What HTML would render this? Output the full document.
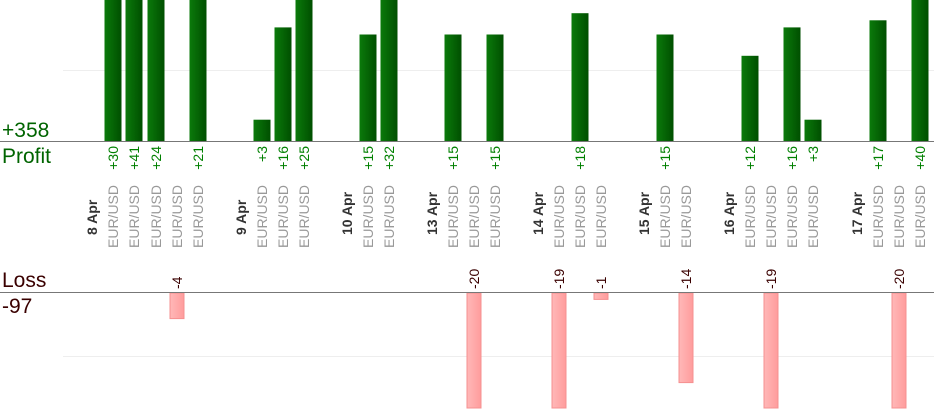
<!DOCTYPE html>
<html><head><meta charset="utf-8"><style>
html,body{margin:0;padding:0;background:#fff;}
svg{display:block;font-family:"Liberation Sans",sans-serif;}
</style></head><body>
<svg width="934" height="420" viewBox="0 0 934 420" xmlns="http://www.w3.org/2000/svg">
<defs>
<linearGradient id="g" x1="0" x2="1" y1="0" y2="0"><stop offset="0" stop-color="#0b7a0b"/><stop offset="1" stop-color="#004f00"/></linearGradient>
<linearGradient id="r" x1="0" x2="1" y1="0" y2="0"><stop offset="0" stop-color="#ffb8b8"/><stop offset="1" stop-color="#ff9c9c"/></linearGradient>
</defs>
<line x1="63" y1="70.5" x2="934" y2="70.5" stroke="#eee"/>
<line x1="63" y1="356.5" x2="934" y2="356.5" stroke="#eee"/>
<g id="bars"></g>
<line x1="0" y1="141.5" x2="934" y2="141.5" stroke="#777"/>
<line x1="0" y1="292.5" x2="934" y2="292.5" stroke="#777"/>
<text x="2" y="137" font-size="21" fill="#006400">+358</text>
<text x="2" y="163" font-size="21" fill="#006400">Profit</text>
<text x="2" y="287" font-size="21" fill="#3a0000">Loss</text>
<text x="2" y="313" font-size="21" fill="#3a0000">-97</text>
<g id="lab"></g>
</svg>
<script>
var cols=[["d",92,"8 Apr"],["e",113,30],["e",134,41],["e",156,24],["e",177,-4],["e",198,21],
["d",241,"9 Apr"],["e",262,3],["e",283,16],["e",304,25],
["d",347,"10 Apr"],["e",368,15],["e",389,32],
["d",432,"13 Apr"],["e",453,15],["e",474,-20],["e",495,15],
["d",538,"14 Apr"],["e",559,-19],["e",580,18],["e",601,-1],
["d",644,"15 Apr"],["e",665,15],["e",686,-14],
["d",729,"16 Apr"],["e",750,12],["e",771,-19],["e",792,16],["e",813,3],
["d",857,"17 Apr"],["e",878,17],["e",899,-20],["e",920,40]];
var b="",l="";
cols.forEach(function(c){
 var x=c[1];
 if(c[0]=="d"){
  l+='<text transform="translate('+(x+5)+',235) rotate(-90)" font-size="14" font-weight="bold" fill="#333">'+c[2]+'</text>';
  return;
 }
 l+='<text transform="translate('+(x+5)+',248) rotate(-90)" font-size="14" fill="#999">EUR/USD</text>';
 var v=c[2];
 if(v>0){
  var h=Math.min(v*7.1,141);
  b+='<rect x="'+(x-8.5)+'" y="'+(141-h)+'" width="17" height="'+h+'" fill="url(#g)"/>';
  l+='<text transform="translate('+(x+5)+',146) rotate(-90)" text-anchor="end" font-size="14" fill="#008000">+'+v+'</text>';
 } else {
  var h2=Math.min(-v*6.4,115);
  b+='<rect x="'+(x-7)+'" y="293" width="14" height="'+h2+'" fill="url(#r)" stroke="#f59090" stroke-width="1"/>';
  l+='<text transform="translate('+(x+5)+',289) rotate(-90)" font-size="14" fill="#3a0000">'+v+'</text>';
 }
});
document.getElementById("bars").innerHTML=b;
document.getElementById("lab").innerHTML=l;
</script>
</body></html>
